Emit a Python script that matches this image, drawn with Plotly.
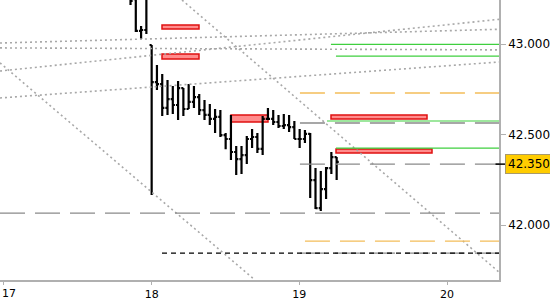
import plotly.graph_objects as go

# ---- axis extents (day number / price) ----
X_MIN, X_MAX = 16.973, 20.352
Y_MIN, Y_MAX = 41.696, 43.245

# ---- OHLC bars ----
bar_start = 17.8568
bar_step = 0.03579
bar_open = [43.30, 43.25, 43.074, 43.079,
            42.996]
bar_high = [43.36, 43.30, 43.101, 43.30,
            42.996, 42.885, 42.836, 42.802, 42.769, 42.797, 42.758, 42.780, 42.769, 42.725,
            42.692, 42.670, 42.642, 42.636, 42.509, 42.609, 42.437, 42.437, 42.492, 42.531,
            42.509, 42.603, 42.648, 42.636, 42.609, 42.614, 42.609, 42.575, 42.531, 42.526,
            42.509, 42.315, 42.299, 42.321, 42.404, 42.376]
bar_low = [43.2175, 43.068, 43.029, 43.057,
           42.166, 42.747, 42.603, 42.609, 42.614, 42.581, 42.603, 42.642, 42.648, 42.609,
           42.581, 42.553, 42.509, 42.487, 42.420, 42.360, 42.277, 42.282, 42.338, 42.426,
           42.398, 42.387, 42.581, 42.553, 42.537, 42.531, 42.515, 42.476, 42.426, 42.454,
           42.149, 42.089, 42.078, 42.144, 42.282, 42.249]
bar_close = [43.2396, 43.074, 43.079, 43.26,
             42.791, 42.780, 42.648, 42.697, 42.664, 42.758, 42.642, 42.681, 42.708, 42.636,
             42.609, 42.587, 42.598, 42.498, 42.476, 42.404, 42.365, 42.387, 42.476, 42.487,
             42.421, 42.587, 42.587, 42.570, 42.548, 42.553, 42.542, 42.476, 42.476, 42.504,
             42.249, 42.094, 42.199, 42.315, 42.376, 42.349]

bar_x = [bar_start + i * bar_step for i in range(len(bar_high))]
opens = list(bar_open) + bar_close[len(bar_open) - 1:-1]

# ---- dotted trend lines (x0, y0, x1, y1) ----
trend_x0 = [16.973, 16.973, 16.973, 16.973, 18.2054, 16.973]
trend_y0 = [43.007, 42.980, 42.852, 42.703, 43.245, 42.897]
trend_x1 = [20.352, 20.352, 20.352, 20.352, 20.352, 18.6997]
trend_y1 = [43.083, 42.969, 43.138, 42.902, 41.740, 41.696]

# ---- horizontal levels ----
green_levels = [43.000, 42.935, 42.5755, 42.426]
green_start = [19.214, 19.248, 19.187, 19.248]

orange_levels = [42.7305, 41.9115]
orange_start = [19.004, 19.038]

gray_levels = [42.5645, 42.337, 42.0665, 41.845]
gray_start = [19.004, 19.004, 16.973, 19.004]

black_levels = [41.845]
black_start = [18.07]

# ---- red zones (x0, x1, y0, y1) ----
zone_x0 = [18.070, 18.070, 18.5372, 19.2144, 19.2483]
zone_x1 = [18.3205, 18.3205, 18.7878, 19.8645, 19.8984]
zone_y0 = [43.0847, 42.9187, 42.5700, 42.5866, 42.3984]
zone_y1 = [43.1068, 42.9463, 42.6087, 42.6087, 42.4206]

last_price = 42.337
last_label = "42.350"

x_ticks = [17, 18, 19, 20]
x_ticktext = ["17", "18", "19", "20"]
y_ticks = [42.0, 42.5, 43.0]
y_ticktext = ["42.000", "42.500", "43.000"]

fig = go.Figure()

# trend lines
for x0, y0, x1, y1 in zip(trend_x0, trend_y0, trend_x1, trend_y1):
    fig.add_trace(go.Scatter(x=[x0, x1], y=[y0, y1], mode="lines",
                             line=dict(color="#a8a8a8", width=1.6, dash="2px,3px"),
                             hoverinfo="skip", showlegend=False))

def hline(level, start, color, dash, width=1.2):
    fig.add_trace(go.Scatter(x=[start, X_MAX], y=[level, level], mode="lines",
                             line=dict(color=color, width=width, dash=dash),
                             hoverinfo="skip", showlegend=False))

for lv, st in zip(gray_levels, gray_start):
    hline(lv, st, "#8a8a8a", "25px,10px", 1.3)
for lv, st in zip(orange_levels, orange_start):
    hline(lv, st, "#f3bd5a", "25px,10px", 1.3)
for lv, st in zip(black_levels, black_start):
    hline(lv, st, "#000000", "5px,4px", 1.2)
for lv, st in zip(green_levels, green_start):
    hline(lv, st, "#3fcf3f", "solid", 1.2)

fig.add_trace(go.Ohlc(x=bar_x, open=opens, high=bar_high, low=bar_low, close=bar_close,
                      increasing=dict(line=dict(color="black", width=2.2)),
                      decreasing=dict(line=dict(color="black", width=2.2)),
                      tickwidth=0.4, hoverinfo="skip", showlegend=False))

shapes = []
for x0, x1, y0, y1 in zip(zone_x0, zone_x1, zone_y0, zone_y1):
    shapes.append(dict(type="rect", xref="x", yref="y", x0=x0, x1=x1, y0=y0, y1=y1,
                       fillcolor="#ff8c8c", line=dict(color="#e01010", width=1.5),
                       layer="below"))
shapes.append(dict(type="line", xref="paper", yref="y", x0=0.993, x1=1.012,
                   y0=last_price, y1=last_price, line=dict(color="black", width=1.5)))

# first day label sits flush with the left edge (as in the reference), others are axis labels
visible_ticktext = [""] + x_ticktext[1:]

fig.update_layout(
    width=550, height=300,
    margin=dict(l=0, r=51, t=0, b=20),
    paper_bgcolor="white", plot_bgcolor="white",
    shapes=shapes,
    showlegend=False,
    font=dict(family="DejaVu Sans", size=12, color="black"),
    xaxis=dict(range=[X_MIN, X_MAX], tickvals=x_ticks, ticktext=visible_ticktext,
               showgrid=False, zeroline=False, showline=True, linecolor="#b0b0b0",
               linewidth=1.5, ticks="outside", ticklen=3, tickcolor="#b0b0b0",
               tickfont=dict(family="DejaVu Sans", size=11, color="black"),
               ticklabeloverflow="allow", automargin=False,
               rangeslider=dict(visible=False), fixedrange=True),
    yaxis=dict(range=[Y_MIN, Y_MAX], side="right", tickvals=y_ticks, ticktext=y_ticktext,
               showgrid=False, zeroline=False, showline=True, linecolor="#b0b0b0",
               linewidth=1.5, ticks="outside", ticklen=5, tickcolor="#b0b0b0",
               automargin=False),
    annotations=[
        dict(xref="paper", yref="y", x=1.0, y=last_price, xanchor="left",
             yanchor="middle", xshift=6, text=last_label, showarrow=False,
             bgcolor="#ffcc00", bordercolor="#a89a6a", borderwidth=1,
             borderpad=2, font=dict(family="DejaVu Sans", size=12, color="black")),
        dict(xref="paper", yref="paper", x=0, y=0, xanchor="left", yanchor="top",
             xshift=0, yshift=-5, text=x_ticktext[0], showarrow=False,
             font=dict(family="DejaVu Sans", size=11, color="black")),
    ],
)

fig.write_html("out.html")
